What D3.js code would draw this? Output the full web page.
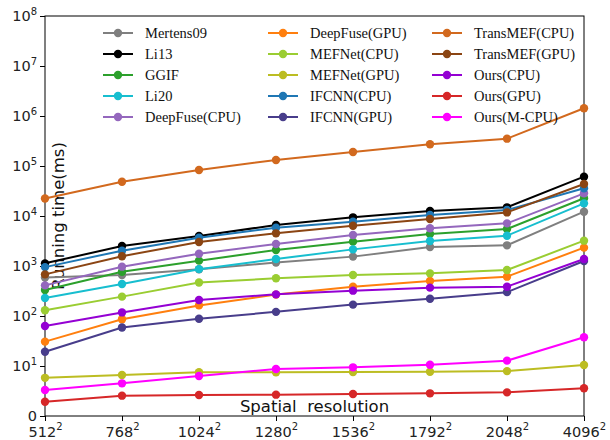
<!DOCTYPE html>
<html>
<head>
<meta charset="utf-8">
<script src="https://cdn.jsdelivr.net/npm/d3@7"></script>
<style>
	body { margin: 0; background: #fff; }
</style>
</head>
<body>
<div id="chart-area"></div>
<script>

// x categories (image side length, drawn as N^2)
let resolutions = ["512", "768", "1024", "1280", "1536", "1792", "2048", "4096"];

// running time in ms
let mertens09    = [590, 660, 860, 1170, 1540, 2400, 2590, 12200];
let li13         = [1130, 2510, 3980, 6600, 9400, 12600, 14900, 61200];
let ggif         = [330, 770, 1280, 2090, 3070, 4370, 5500, 22600];
let li20         = [230, 437, 865, 1380, 2150, 3160, 4040, 17900];
let deepFuseCPU  = [410, 970, 1760, 2750, 4170, 5670, 7130, 28400];
let deepFuseGPU  = [30.7, 86, 163, 268, 386, 500, 612, 2330];
let mefNetCPU    = [130, 244, 468, 567, 660, 713, 832, 3210];
let mefNetGPU    = [5.8, 6.6, 7.5, 7.5, 7.6, 7.7, 7.9, 10.5];
let ifcnnCPU     = [950, 2025, 3690, 5840, 7700, 10500, 13200, 35800];
let ifcnnGPU     = [19.3, 59, 88, 121, 169, 222, 300, 1260];
let transMEFCPU  = [22400, 48500, 83000, 132000, 190000, 272000, 352000, 1430000];
let transMEFGPU  = [680, 1570, 3020, 4500, 6400, 8700, 11800, 43700];
let oursCPU      = [63, 118, 209, 271, 321, 369, 386, 1380];
let oursGPU      = [1.93, 2.55, 2.63, 2.67, 2.75, 2.84, 2.97, 3.58];
let oursMCPU     = [3.3, 4.5, 6.3, 8.7, 9.4, 10.6, 12.8, 37.5];

let methodNames = ["Mertens09", "Li13", "GGIF", "Li20", "DeepFuse(CPU)",
	"DeepFuse(GPU)", "MEFNet(CPU)", "MEFNet(GPU)", "IFCNN(CPU)", "IFCNN(GPU)",
	"TransMEF(CPU)", "TransMEF(GPU)", "Ours(CPU)", "Ours(GPU)", "Ours(M-CPU)"];

let methodColors = ["#7f7f7f", "#000000", "#2ca02c", "#17becf", "#9467bd",
	"#ff7f0e", "#9acd32", "#bcbd22", "#1f77b4", "#483d8b",
	"#d2691e", "#8b4513", "#9400d3", "#d62728", "#ff00ff"];

let yTicks = [1, 10, 100, 1e3, 1e4, 1e5, 1e6, 1e7, 1e8];

let series = [mertens09, li13, ggif, li20, deepFuseCPU, deepFuseGPU, mefNetCPU,
	mefNetGPU, ifcnnCPU, ifcnnGPU, transMEFCPU, transMEFGPU, oursCPU, oursGPU, oursMCPU]
	.map((vals, i) => ({name: methodNames[i], color: methodColors[i], values: vals}));

// margin conventions
let margin = {top: 16, right: 26, bottom: 24, left: 45};
let width = 610 - margin.left - margin.right;
let height = 440 - margin.top - margin.bottom;

let svg = d3.select("#chart-area").append("svg")
		.attr("width", width + margin.left + margin.right)
		.attr("height", height + margin.top + margin.bottom)
	.append("g")
		.attr("transform", "translate(" + margin.left + "," + margin.top + ")");

let tickFont = "DejaVu Sans, sans-serif";

// scales
let xScale = d3.scalePoint()
	.domain(resolutions)
	.range([0, width]);

let yScale = d3.scaleLog()
	.domain([1, 1e8])
	.range([height, 0]);

// frame
svg.append("rect")
	.attr("width", width)
	.attr("height", height)
	.attr("fill", "none")
	.attr("stroke", "#000")
	.attr("stroke-width", 1);

// axes
let xAxis = d3.axisBottom(xScale).tickSize(5).tickSizeOuter(0);
let yAxis = d3.axisLeft(yScale).tickValues(yTicks).tickSize(5).tickSizeOuter(0);

let xGroup = svg.append("g")
	.attr("transform", `translate(0,${height})`)
	.call(xAxis);

let yGroup = svg.append("g").call(yAxis);

[xGroup, yGroup].forEach(g => {
	g.select(".domain").remove();
	g.selectAll(".tick line").attr("stroke", "#000");
	g.selectAll(".tick text")
		.attr("fill", "#222")
		.attr("font-family", tickFont)
		.attr("font-size", 14.5);
});

xGroup.selectAll(".tick text")
	.attr("y", 21)
	.attr("dy", 0)
	.each(function(d) {
		let t = d3.select(this).text(null);
		t.append("tspan").text(d);
		t.append("tspan").attr("dy", -7.5).attr("font-size", 10).text("2");
	});

yGroup.selectAll(".tick text")
	.each(function(d) {
		let t = d3.select(this).text(null);
		if (d === 1) {
			t.text("0");
		} else {
			t.append("tspan").text("10");
			t.append("tspan").attr("dy", -6).attr("font-size", 10)
				.text(Math.round(Math.log10(d)));
		}
	});

// axis titles (they sit inside the frame in the original)
svg.append("text")
	.attr("transform", `translate(${64 - margin.left},${height / 2}) rotate(-90)`)
	.attr("text-anchor", "middle")
	.attr("font-family", tickFont)
	.attr("font-size", 16.5)
	.attr("fill", "#111")
	.text("Running time(ms)");

svg.append("text")
	.attr("x", width / 2)
	.attr("y", height - 4)
	.attr("text-anchor", "middle")
	.attr("font-family", tickFont)
	.attr("font-size", 16.5)
	.attr("fill", "#111")
	.style("white-space", "pre")
	.text("Spatial  resolution");

// lines + markers
let line = d3.line()
	.x((d, i) => xScale(resolutions[i]))
	.y(d => yScale(d));

let groups = svg.selectAll(".series")
	.data(series)
	.enter()
	.append("g")
	.attr("class", "series");

groups.append("path")
	.attr("d", d => line(d.values))
	.attr("fill", "none")
	.attr("stroke", d => d.color)
	.attr("stroke-width", 2);

groups.selectAll("circle")
	.data(d => d.values.map((v, i) => ({v: v, i: i, color: d.color})))
	.enter()
	.append("circle")
	.attr("cx", d => xScale(resolutions[d.i]))
	.attr("cy", d => yScale(d.v))
	.attr("r", 4.2)
	.attr("fill", d => d.color);

// legend, 3 columns x 5 rows, no frame
let legendCols = [103, 268, 432];
let legend = svg.selectAll(".legend")
	.data(series)
	.enter()
	.append("g")
	.attr("class", "legend")
	.attr("transform", (d, i) =>
		`translate(${legendCols[Math.floor(i / 5)] - margin.left},${33 + (i % 5) * 21 - margin.top})`);

legend.append("line")
	.attr("x1", 0)
	.attr("x2", 30)
	.attr("stroke", d => d.color)
	.attr("stroke-width", 2);

legend.append("circle")
	.attr("cx", 15)
	.attr("r", 4.2)
	.attr("fill", d => d.color);

legend.append("text")
	.attr("x", 42)
	.attr("dy", "0.35em")
	.attr("font-family", "Liberation Serif, Times New Roman, serif")
	.attr("font-size", 14.5)
	.attr("fill", "#111")
	.text(d => d.name);

</script>
</body>
</html>
